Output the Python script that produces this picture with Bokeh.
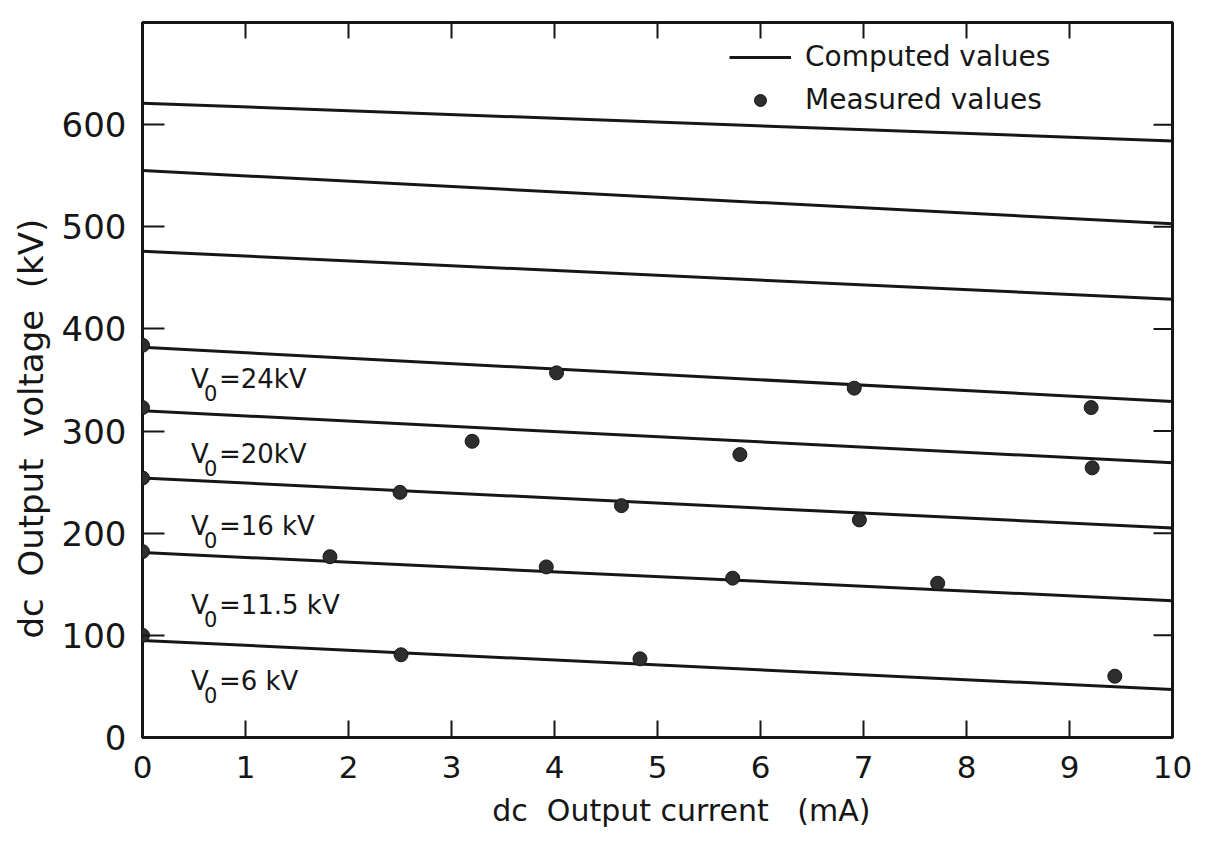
import math
from bokeh.plotting import figure
from bokeh.models import (LinearAxis, FixedTicker, Range1d, Legend,
                          LegendItem, ColumnDataSource)
from bokeh.embed import file_html
from bokeh.resources import INLINE
from bokeh.core.properties import value

# ---------------- data ----------------
# Computed values: output voltage (kV) at 0 mA and at 10 mA for each curve
current_ends = [0, 10]
computed_at_0 = [95, 181, 254, 320, 382, 476, 555, 621]
computed_at_10 = [47, 134, 205, 269, 329, 429, 503, 584]

# Measured values (current mA, voltage kV) for each input voltage V0
meas_i_6 = [0, 2.51, 4.83, 9.44]
meas_v_6 = [100, 81, 77, 60]
meas_i_11 = [0, 1.82, 3.92, 5.73, 7.72]
meas_v_11 = [182, 177, 167, 156, 151]
meas_i_16 = [0, 2.5, 4.65, 6.96]
meas_v_16 = [254, 240, 227, 213]
meas_i_20 = [0, 3.2, 5.8, 9.22]
meas_v_20 = [323, 290, 277, 264]
meas_i_24 = [0, 4.02, 6.91, 9.21]
meas_v_24 = [384, 357, 342, 323]

# Curve labels (V0) and their vertical placement (kV)
curve_label_text = ["=6 kV", "=11.5 kV", "=16 kV", "=20kV", "=24kV"]
curve_label_y = [55, 130, 207, 278, 351]

x_ticks = list(range(0, 11))
y_ticks = [0, 100, 200, 300, 400, 500, 600]

FONT = "DejaVu Sans"
INK = "#161616"
NB = "\u00a0"

X_MIN, X_MAX = 0, 10
Y_MIN, Y_MAX = 0, 700

# ---------------- figure ----------------
p = figure(frame_width=1030, frame_height=715,
           x_range=Range1d(X_MIN, X_MAX), y_range=Range1d(Y_MIN, Y_MAX),
           output_backend="svg", toolbar_location=None,
           min_border_left=142, min_border_right=33,
           min_border_top=22, min_border_bottom=105,
           x_axis_type=None, y_axis_type=None)
p.grid.visible = False
p.outline_line_color = INK
p.outline_line_width = 3
p.background_fill_color = "white"
p.border_fill_color = "white"


def style_axis(ax, tick_len, label_size, standoff):
    ax.axis_line_color = None
    ax.major_tick_in = tick_len
    ax.major_tick_out = 0
    ax.minor_tick_line_color = None
    ax.major_tick_line_color = INK
    ax.major_tick_line_width = 2
    ax.major_label_standoff = standoff
    ax.major_label_text_font = FONT
    ax.major_label_text_color = INK
    ax.major_label_text_font_size = label_size
    ax.axis_label_text_font = FONT
    ax.axis_label_text_font_style = "normal"
    ax.axis_label_text_color = INK


bottom = LinearAxis(ticker=FixedTicker(ticks=x_ticks),
                    axis_label=NB * 5 + "dc" + NB * 2 + "Output current" + NB * 3 + "(mA)")
style_axis(bottom, 17, "31px", 18)
bottom.axis_label_text_font_size = "30px"
bottom.axis_label_standoff = 12
p.add_layout(bottom, "below")

left = LinearAxis(ticker=FixedTicker(ticks=y_ticks),
                  axis_label="dc" + NB * 2 + "Output" + NB * 2 + "voltage" + NB * 2 + "(kV)" + NB * 9)
style_axis(left, 22, "34px", 16)
left.axis_label_text_font_size = "34px"
left.axis_label_standoff = 8
p.add_layout(left, "left")

# inward ticks on the top and right frame edges (no labels there)
p.ray(x=x_ticks[1:-1], y=[Y_MAX] * (len(x_ticks) - 2), length=16,
      length_units="screen", angle=-math.pi / 2, line_color=INK, line_width=2)
p.ray(x=[X_MAX] * (len(y_ticks) - 1), y=y_ticks[1:], length=19,
      length_units="screen", angle=math.pi, line_color=INK, line_width=2)

# computed lines
xs = [current_ends for _ in computed_at_0]
ys = [[a, b] for a, b in zip(computed_at_0, computed_at_10)]
lines = p.multi_line(xs=xs, ys=ys, line_color=INK, line_width=3)

# measured points
mx = meas_i_6 + meas_i_11 + meas_i_16 + meas_i_20 + meas_i_24
my = meas_v_6 + meas_v_11 + meas_v_16 + meas_v_20 + meas_v_24
pts = p.scatter(x=mx, y=my, size=14, marker="circle",
                fill_color="#2e2e2e", line_color=INK, line_width=1)

# curve labels: V with subscript 0
lab_src = ColumnDataSource(dict(
    x=[0.47] * len(curve_label_y), y=curve_label_y,
    v=["V"] * len(curve_label_y), sub=["0"] * len(curve_label_y),
    rest=curve_label_text))
p.text(x="x", y="y", text="v", source=lab_src, text_font=value(FONT),
       text_font_size="26px", text_color=INK, text_align="left",
       text_baseline="middle")
p.text(x="x", y="y", text="sub", source=lab_src, text_font=value(FONT),
       text_font_size="21px", text_color=INK, text_align="left",
       text_baseline="middle", x_offset=13, y_offset=14)
p.text(x="x", y="y", text="rest", source=lab_src, text_font=value(FONT),
       text_font_size="26px", text_color=INK, text_align="left",
       text_baseline="middle", x_offset=28)

# legend
legend = Legend(items=[LegendItem(label="Computed values", renderers=[lines]),
                       LegendItem(label="Measured values", renderers=[pts])],
                location=(587, 621), glyph_width=62, glyph_height=30,
                label_height=30, label_standoff=14, spacing=10,
                padding=0, margin=0, border_line_color=None,
                background_fill_alpha=0,
                label_text_font=FONT, label_text_font_size="28px",
                label_text_color=INK)
p.add_layout(legend)

open("out.html", "w").write(file_html(p, INLINE))
